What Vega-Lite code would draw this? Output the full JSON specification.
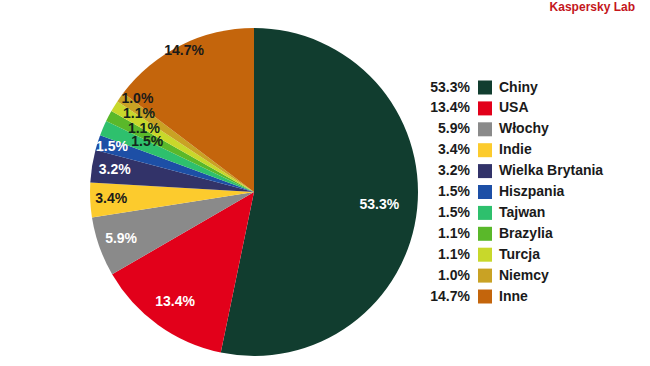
{
  "$schema": "https://vega.github.io/schema/vega-lite/v6.json",
  "padding": {"left": 89, "top": 1, "right": 15, "bottom": 0},
  "title": {"text": "Kaspersky Lab", "anchor": "end", "fontSize": 12, "fontWeight": "bold", "color": "#c4161c", "font": "Liberation Sans", "offset": 13},
  "data": {"values": [
    {"kraj": "Chiny", "udzial": 0.533, "n": 1},
    {"kraj": "USA", "udzial": 0.134, "n": 2},
    {"kraj": "Włochy", "udzial": 0.059, "n": 3},
    {"kraj": "Indie", "udzial": 0.034, "n": 4},
    {"kraj": "Wielka Brytania", "udzial": 0.032, "n": 5},
    {"kraj": "Hiszpania", "udzial": 0.015, "n": 6},
    {"kraj": "Tajwan", "udzial": 0.015, "n": 7},
    {"kraj": "Brazylia", "udzial": 0.011, "n": 8},
    {"kraj": "Turcja", "udzial": 0.011, "n": 9},
    {"kraj": "Niemcy", "udzial": 0.010, "n": 10},
    {"kraj": "Inne", "udzial": 0.147, "n": 11}
  ]},
  "spacing": 0,
  "hconcat": [
    {
      "width": 330,
      "height": 330,
      "encoding": {
        "theta": {"field": "udzial", "type": "quantitative", "stack": true},
        "order": {"field": "n", "type": "quantitative"}
      },
      "layer": [
        {"mark": {"type": "arc", "outerRadius": 164},
         "encoding": {"color": {"field": "kraj", "type": "nominal", "legend": null,
           "scale": {"domain": ["Chiny", "USA", "Włochy", "Indie", "Wielka Brytania", "Hiszpania", "Tajwan", "Brazylia", "Turcja", "Niemcy", "Inne"],
                     "range": ["#113d2f", "#e2001a", "#8a8a8a", "#fccb2d", "#323369", "#1d4fa6", "#2ec06d", "#5ab82a", "#c8d82b", "#c9a224", "#c4650c"]}}}},
        {"mark": {"type": "text", "radius": 126, "fontSize": 14, "fontWeight": "bold", "color": "white"},
         "encoding": {"text": {"condition": {"test": "datum.kraj === 'Chiny'", "field": "udzial", "type": "quantitative", "format": ".1%"}, "value": ""}}},
        {"mark": {"type": "text", "radius": 135, "fontSize": 14, "fontWeight": "bold", "color": "white"},
         "encoding": {"text": {"condition": {"test": "datum.kraj === 'USA'", "field": "udzial", "type": "quantitative", "format": ".1%"}, "value": ""}}},
        {"mark": {"type": "text", "radius": 141, "fontSize": 14, "fontWeight": "bold", "color": "white"},
         "encoding": {"text": {"condition": {"test": "datum.kraj === 'Włochy' || datum.kraj === 'Wielka Brytania'", "field": "udzial", "type": "quantitative", "format": ".1%"}, "value": ""}}},
        {"mark": {"type": "text", "radius": 149, "fontSize": 14, "fontWeight": "bold", "color": "white"},
         "encoding": {"text": {"condition": {"test": "datum.kraj === 'Hiszpania'", "field": "udzial", "type": "quantitative", "format": ".1%"}, "value": ""}}},
        {"mark": {"type": "text", "radius": 118, "thetaOffset": 0.04, "fontSize": 14, "fontWeight": "bold", "color": "#13261b"},
         "encoding": {"text": {"condition": {"test": "datum.kraj === 'Tajwan'", "field": "udzial", "type": "quantitative", "format": ".1%"}, "value": ""}}},
        {"mark": {"type": "text", "radius": 127, "thetaOffset": 0.04, "fontSize": 14, "fontWeight": "bold", "color": "#13261b"},
         "encoding": {"text": {"condition": {"test": "datum.kraj === 'Brazylia'", "field": "udzial", "type": "quantitative", "format": ".1%"}, "value": ""}}},
        {"mark": {"type": "text", "radius": 139, "thetaOffset": 0.045, "fontSize": 14, "fontWeight": "bold", "color": "#13261b"},
         "encoding": {"text": {"condition": {"test": "datum.kraj === 'Turcja'", "field": "udzial", "type": "quantitative", "format": ".1%"}, "value": ""}}},
        {"mark": {"type": "text", "radius": 143, "fontSize": 14, "fontWeight": "bold", "color": "#1a1a1a"},
         "encoding": {"text": {"condition": {"test": "datum.kraj === 'Indie'", "field": "udzial", "type": "quantitative", "format": ".1%"}, "value": ""}}},
        {"mark": {"type": "text", "radius": 149, "thetaOffset": 0.055, "fontSize": 14, "fontWeight": "bold", "color": "#1a1a1a"},
         "encoding": {"text": {"condition": {"test": "datum.kraj === 'Niemcy'", "field": "udzial", "type": "quantitative", "format": ".1%"}, "value": ""}}},
        {"mark": {"type": "text", "radius": 157, "fontSize": 14, "fontWeight": "bold", "color": "#1a1a1a"},
         "encoding": {"text": {"condition": {"test": "datum.kraj === 'Inne'", "field": "udzial", "type": "quantitative", "format": ".1%"}, "value": ""}}}
      ]
    },
    {
      "width": 216,
      "height": 330,
      "encoding": {
        "y": {"field": "kraj", "type": "nominal", "sort": {"field": "n", "op": "min"}, "scale": {"type": "point", "padding": 0, "range": [60.5, 269.5]}, "axis": null}
      },
      "layer": [
        {"mark": {"type": "text", "align": "right", "baseline": "middle", "x": 51, "fontSize": 14, "fontWeight": "bold", "color": "#1a1a1a"},
         "encoding": {"text": {"field": "udzial", "type": "quantitative", "format": ".1%"}}},
        {"mark": {"type": "square", "x": 66, "size": 196, "filled": true, "opacity": 1},
         "encoding": {"color": {"field": "kraj", "type": "nominal", "legend": null}}},
        {"mark": {"type": "text", "align": "left", "baseline": "middle", "x": 80, "fontSize": 14, "fontWeight": "bold", "color": "#1a1a1a"},
         "encoding": {"text": {"field": "kraj", "type": "nominal"}}}
      ]
    }
  ],
  "config": {"view": {"stroke": null}, "font": "Liberation Sans"}
}
